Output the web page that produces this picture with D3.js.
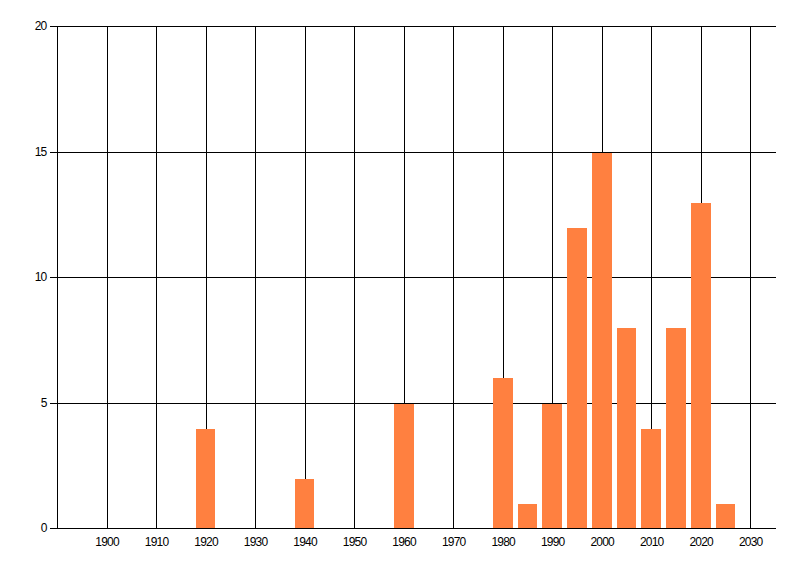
<!DOCTYPE html>
<html>
<head>
<meta charset="utf-8">
<script src="https://cdn.jsdelivr.net/npm/d3@7"></script>
<style>
  body { margin: 0; background: #fff; }
  svg { display: block; }
</style>
</head>
<body>
<script>
// chart data
const years = [1920, 1940, 1960, 1980, 1985, 1990, 1995, 2000, 2005, 2010, 2015, 2020, 2025];
const counts = [4, 2, 5, 6, 1, 5, 12, 15, 8, 4, 8, 13, 1];
const xTicks = [1900, 1910, 1920, 1930, 1940, 1950, 1960, 1970, 1980, 1990, 2000, 2010, 2020, 2030];
const yTicks = [0, 5, 10, 15, 20];

const width = 800;
const height = 576;
const margin = { top: 26, right: 25, bottom: 48, left: 57 };
const innerWidth = width - margin.left - margin.right;
const innerHeight = height - margin.top - margin.bottom;
const font = '"Liberation Sans", Arial, sans-serif';

const svg = d3.select('body')
  .append('svg')
  .attr('width', width)
  .attr('height', height);

const g = svg.append('g')
  .attr('transform', `translate(${margin.left + 0.5},${margin.top + 0.5})`);

// scales
const xScale = d3.scaleLinear()
  .domain([1890, 2035])
  .range([0, innerWidth]);

const yScale = d3.scaleLinear()
  .domain([0, 20])
  .range([innerHeight, 0]);

// vertical grid + x labels
const xAxis = d3.axisBottom(xScale)
  .tickValues(xTicks)
  .tickFormat(d3.format('d'))
  .tickSize(-innerHeight)
  .tickPadding(8.5)
  .offset(0);

const xg = g.append('g')
  .attr('transform', `translate(0,${innerHeight})`)
  .call(xAxis)
  .attr('font-family', font)
  .attr('font-size', 12);
xg.select('.domain').remove();
xg.selectAll('line').attr('stroke', '#000').attr('shape-rendering', 'crispEdges');
xg.selectAll('text').attr('letter-spacing', -0.8);

// horizontal grid + y labels
const yAxis = d3.axisLeft(yScale)
  .tickValues(yTicks)
  .tickSize(-innerWidth)
  .offset(0);

const yg = g.append('g')
  .call(yAxis)
  .attr('font-family', font)
  .attr('font-size', 12);
yg.select('.domain').remove();
yg.selectAll('line')
  .attr('x1', -8)
  .attr('stroke', '#000')
  .attr('shape-rendering', 'crispEdges');
yg.selectAll('text')
  .attr('x', -11)
  .attr('letter-spacing', -0.8);

// y axis line
g.append('line')
  .attr('x1', 0).attr('x2', 0)
  .attr('y1', 0).attr('y2', innerHeight)
  .attr('stroke', '#000')
  .attr('shape-rendering', 'crispEdges');

// bars
g.selectAll('rect.bar')
  .data(years)
  .enter()
  .append('rect')
  .attr('class', 'bar')
  .attr('x', d => xScale(d - 2) - 0.5)
  .attr('width', d => xScale(d + 2) - xScale(d - 2))
  .attr('y', (d, i) => yScale(counts[i]) + 0.5)
  .attr('height', (d, i) => innerHeight - yScale(counts[i]))
  .attr('fill', '#FF8040')
  .attr('shape-rendering', 'crispEdges');

// x axis line over the bars
g.append('line')
  .attr('x1', 0).attr('x2', innerWidth)
  .attr('y1', innerHeight).attr('y2', innerHeight)
  .attr('stroke', '#000')
  .attr('shape-rendering', 'crispEdges');
</script>
</body>
</html>
